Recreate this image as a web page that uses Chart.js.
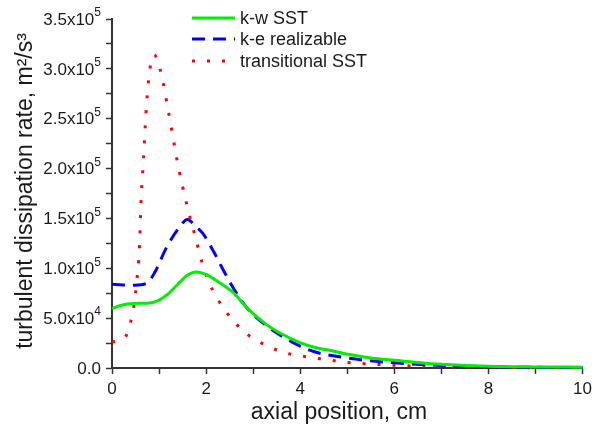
<!DOCTYPE html>
<html>
<head>
<meta charset="utf-8">
<script src="https://cdn.jsdelivr.net/npm/chart.js@4"></script>
<style>
  html, body { margin: 0; padding: 0; background: #fff; }
  #wrap { width: 597px; height: 430px; }
</style>
</head>
<body>
<div id="wrap"><canvas id="dissChart" width="597" height="430"></canvas></div>
<script>
// series data (x in cm, y in m2/s3)
const sstX = [0, 0.2, 0.46, 0.81, 1.0, 1.16, 1.4, 1.6, 1.79, 2.0, 2.21, 2.56, 2.92, 3.27, 3.62, 3.97, 4.32, 4.6, 5.02, 5.5, 6, 7, 8, 9, 10];
const sstY = [59600, 63000, 64700, 65300, 68000, 73000, 84000, 93000, 96400, 94000, 88000, 76300, 58000, 44000, 33800, 26000, 20500, 18000, 13700, 10000, 7700, 3700, 1800, 1100, 800];

const keX = [0, 0.49, 0.74, 0.91, 1.16, 1.44, 1.6, 1.79, 1.93, 2.18, 2.39, 2.7, 2.95, 3.41, 3.83, 4.32, 4.8, 5.38, 5.94, 7, 8, 9, 10];
const keY = [84000, 83000, 85000, 96000, 121000, 141500, 149000, 141500, 135000, 115000, 96000, 71000, 56000, 38000, 26000, 16000, 11500, 7700, 5400, 2500, 1200, 700, 500];

const transX = [0, 0.28, 0.39, 0.46, 0.53, 0.58, 0.62, 0.67, 0.72, 0.78, 0.84, 0.9, 0.97, 1.07, 1.18, 1.28, 1.38, 1.49, 1.62, 1.79, 1.95, 2.07, 2.21, 2.37, 2.55, 2.77, 3.02, 3.32, 3.62, 3.93, 4.25, 4.57, 4.88, 5.5, 6, 7, 8, 9, 10];
const transY = [26000, 31000, 45000, 60000, 89000, 118000, 170000, 210000, 254000, 290000, 309000, 314000, 308000, 290000, 262000, 236000, 209000, 184000, 158000, 128000, 100000, 85000, 72000, 60000, 49000, 38000, 29000, 22000, 16000, 12800, 10400, 8400, 6200, 4000, 2700, 1200, 600, 300, 200];

const seriesNames = ["k-w SST", "k-e realizable", "transitional SST"];
const seriesColors = ["#00ee00", "#0000ff", "#ff0000"];

const xTicks = [0, 2, 4, 6, 8, 10];
const yTicks = [0, 50000, 100000, 150000, 200000, 250000, 300000, 350000];

const xTitle = "axial position, cm";
const yTitle = "turbulent dissipation rate, m²/s³";

const pairs = (xs, ys) => xs.map((x, i) => ({ x: x, y: ys[i] }));

const FONT = "'Liberation Sans', Arial, sans-serif";
const AXIS = "#333333";
const TEXT = "#1a1a1a";

// y tick labels with superscript exponents, axis titles, legend
const customDraw = {
    id: "customDraw",
    afterDraw(chart) {
        const ctx = chart.ctx;
        const ys = chart.scales.y;
        ctx.save();
        ctx.fillStyle = TEXT;
        ctx.textBaseline = "middle";
        const right = 101;
        yTicks.forEach(v => {
            const py = ys.getPixelForValue(v);
            let base, sup = "";
            if (v === 0) {
                base = "0.0";
            } else {
                const e = Math.floor(Math.log10(v) + 1e-9);
                const m = v / Math.pow(10, e);
                base = m.toFixed(1) + "x10";
                sup = String(e);
            }
            ctx.font = "12px " + FONT;
            const sw = ctx.measureText(sup).width;
            ctx.textAlign = "left";
            if (sup) ctx.fillText(sup, right - sw, py - 6);
            ctx.font = "17px " + FONT;
            const bw = ctx.measureText(base).width;
            ctx.fillText(base, right - sw - bw, py + 1);
        });

        // axis titles
        ctx.font = "23px " + FONT;
        ctx.textAlign = "center";
        ctx.fillText(xTitle, 339, 413);
        ctx.save();
        ctx.translate(26, 191);
        ctx.rotate(-Math.PI / 2);
        ctx.fillText(yTitle, 0, 0);
        ctx.restore();

        // legend
        const lx0 = 192, lx1 = 235, tx = 240;
        const rows = [18, 39, 61];
        ctx.font = "18px " + FONT;
        ctx.textAlign = "left";
        chart.data.datasets.forEach((ds, i) => {
            ctx.beginPath();
            ctx.strokeStyle = ds.borderColor;
            ctx.lineWidth = ds.borderWidth;
            ctx.setLineDash(ds.borderDash || []);
            ctx.moveTo(lx0, rows[i]);
            ctx.lineTo(lx1, rows[i]);
            ctx.stroke();
            ctx.setLineDash([]);
            ctx.fillStyle = TEXT;
            ctx.fillText(ds.label, tx, rows[i] + 1);
        });
        ctx.restore();
    }
};

new Chart(document.getElementById("dissChart").getContext("2d"), {
    type: "line",
    data: {
        datasets: [{
            label: seriesNames[0],
            data: pairs(sstX, sstY),
            borderColor: seriesColors[0],
            borderWidth: 3,
            cubicInterpolationMode: "monotone",
            pointRadius: 0,
            fill: false
        }, {
            label: seriesNames[1],
            data: pairs(keX, keY),
            borderColor: seriesColors[1],
            borderWidth: 3,
            borderDash: [13, 8],
            cubicInterpolationMode: "monotone",
            pointRadius: 0,
            fill: false
        }, {
            label: seriesNames[2],
            data: pairs(transX, transY),
            borderColor: seriesColors[2],
            borderWidth: 3,
            borderDash: [3, 12],
            cubicInterpolationMode: "monotone",
            pointRadius: 0,
            fill: false
        }]
    },
    options: {
        responsive: false,
        animation: false,
        clip: false,
        layout: { autoPadding: false, padding: { top: 19, right: 9.5, left: 0, bottom: 0 } },
        plugins: {
            legend: { display: false },
            tooltip: { enabled: false }
        },
        scales: {
            x: {
                type: "linear",
                min: 0,
                max: 10,
                afterFit: s => { s.height = 62; },
                afterBuildTicks: s => { s.ticks = [0,1,2,3,4,5,6,7,8,9,10].map(v => ({ value: v })); },
                ticks: {
                    autoSkip: false,
                    maxRotation: 0,
                    color: TEXT,
                    font: { family: FONT, size: 17 },
                    padding: 5,
                    callback: v => (xTicks.includes(v) ? String(v) : "")
                },
                grid: { drawOnChartArea: false, tickLength: 6, tickColor: AXIS, tickWidth: 1.5 },
                border: { color: AXIS, width: 2 },
                title: { display: false }
            },
            y: {
                type: "linear",
                min: 0,
                max: 350000,
                afterFit: s => { s.width = 112; },
                afterBuildTicks: s => {
                    const t = [];
                    for (let v = 0; v <= 350000; v += 25000) t.push({ value: v });
                    s.ticks = t;
                },
                ticks: { display: false },
                grid: { drawOnChartArea: false, tickLength: 6, tickColor: AXIS, tickWidth: 1.5 },
                border: { color: AXIS, width: 2 },
                title: { display: false }
            }
        }
    },
    plugins: [customDraw]
});
</script>
</body>
</html>
